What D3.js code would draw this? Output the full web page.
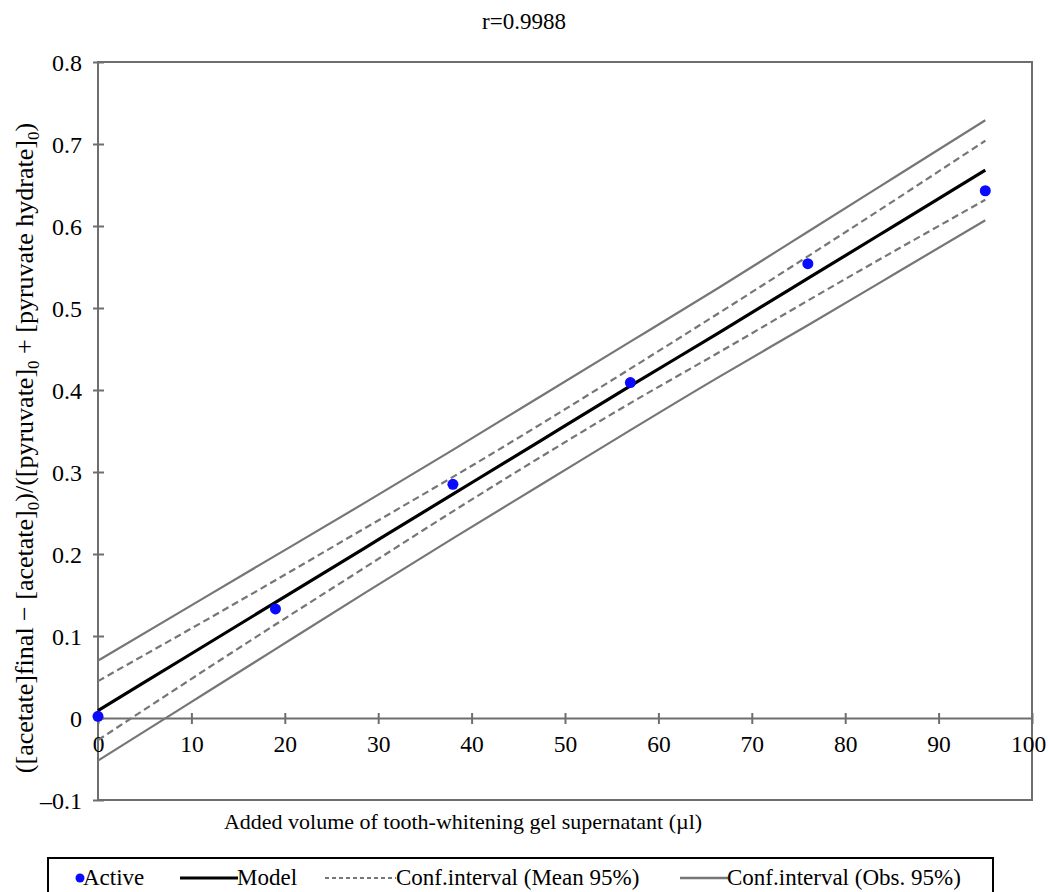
<!DOCTYPE html>
<html>
<head>
<meta charset="utf-8">
<script src="https://cdn.jsdelivr.net/npm/d3@7"></script>
<style>
  html, body { margin: 0; padding: 0; background: #fff; }
  svg { display: block; font-family: "Liberation Serif", "DejaVu Serif", serif; }
</style>
</head>
<body>
<svg id="chart" width="1048" height="892"></svg>
<script>
// ---- data ----
const xPoints = [0, 19, 38, 57, 76, 95];
const yPoints = [0.002, 0.133, 0.285, 0.409, 0.554, 0.643];

const curveX    = [0, 9.5, 19, 28.5, 38, 47.5, 57, 66.5, 76, 85.5, 95];
const modelY    = [0.009, 0.075, 0.141, 0.207, 0.273, 0.339, 0.405, 0.470, 0.536, 0.602, 0.668];
const meanUpper = [0.045, 0.106, 0.168, 0.231, 0.294, 0.359, 0.426, 0.494, 0.563, 0.633, 0.704];
const meanLower = [-0.027, 0.044, 0.114, 0.183, 0.252, 0.319, 0.384, 0.446, 0.509, 0.571, 0.632];
const obsUpper  = [0.070, 0.134, 0.198, 0.262, 0.327, 0.393, 0.459, 0.525, 0.593, 0.661, 0.729];
const obsLower  = [-0.052, 0.016, 0.084, 0.152, 0.219, 0.285, 0.351, 0.416, 0.479, 0.543, 0.607];

const xTicks = [0, 10, 20, 30, 40, 50, 60, 70, 80, 90, 100];
const yTicks = [-0.1, 0, 0.1, 0.2, 0.3, 0.4, 0.5, 0.6, 0.7, 0.8];
const yTickLabels = ["\u20130.1", "0", "0.1", "0.2", "0.3", "0.4", "0.5", "0.6", "0.7", "0.8"];

const titleText = "r=0.9988";
const xLabelText = "Added volume of tooth-whitening gel supernatant (\u00b5l)";
const legendLabels = ["Active", "Model", "Conf.interval (Mean 95%)", "Conf.interval (Obs. 95%)"];

// ---- layout ----
const svg = d3.select("#chart");
const L = 98, R = 1032, T = 62, B = 800;
const x = d3.scaleLinear().domain([0, 100]).range([L, R]);
const y = d3.scaleLinear().domain([-0.1, 0.8]).range([B, T]);
const frameColor = "#6e6e6e";
const ciColor = "#767676";

// title
svg.append("text").attr("x", 524).attr("y", 29).attr("text-anchor", "middle")
  .attr("font-size", 23).text(titleText);

// frame
svg.append("rect").attr("x", L).attr("y", T).attr("width", R - L).attr("height", B - T)
  .attr("fill", "none").attr("stroke", frameColor).attr("stroke-width", 2);

// y axis ticks
const yAxis = d3.axisLeft(y).tickValues(yTicks).tickSize(0).tickFormat("");
const gy = svg.append("g").attr("transform", `translate(${L},0)`).call(yAxis);
gy.select(".domain").remove();
gy.selectAll(".tick line").attr("x1", -5).attr("x2", 6).attr("stroke", frameColor).attr("stroke-width", 2);
gy.selectAll(".tick").append("text")
  .attr("x", -16).attr("dy", "0.35em").attr("text-anchor", "end")
  .attr("fill", "#000").attr("font-size", 24)
  .attr("font-family", "Liberation Serif, serif")
  .text((d, i) => yTickLabels[i]);

// x axis at y = 0
const xAxis = d3.axisBottom(x).tickValues(xTicks).tickSize(0).tickFormat("");
const gx = svg.append("g").attr("transform", `translate(0,${y(0)})`).call(xAxis);
gx.select(".domain").attr("stroke", frameColor).attr("stroke-width", 2);
gx.selectAll(".tick line").attr("y1", -5).attr("y2", 6).attr("stroke", frameColor).attr("stroke-width", 2);
gx.selectAll(".tick").append("text")
  .attr("y", 34).attr("text-anchor", "middle")
  .attr("dx", d => d === 100 ? -4 : 0)
  .attr("fill", "#000").attr("font-size", 23.5)
  .attr("font-family", "Liberation Serif, serif")
  .text(d => d3.format("d")(d));

// lines
const line = d3.line().x(d => x(d[0])).y(d => y(d[1])).curve(d3.curveNatural);
const zipXY = arr => curveX.map((v, i) => [v, arr[i]]);

[obsUpper, obsLower].forEach(arr => {
  svg.append("path").datum(zipXY(arr)).attr("d", line)
    .attr("fill", "none").attr("stroke", ciColor).attr("stroke-width", 2.2);
});
[meanUpper, meanLower].forEach(arr => {
  svg.append("path").datum(zipXY(arr)).attr("d", line)
    .attr("fill", "none").attr("stroke", ciColor).attr("stroke-width", 2.2)
    .attr("stroke-dasharray", "7,4");
});
svg.append("path").datum(zipXY(modelY)).attr("d", line)
  .attr("fill", "none").attr("stroke", "#000").attr("stroke-width", 3.2);

// points
svg.selectAll("circle.pt").data(xPoints.map((v, i) => [v, yPoints[i]])).enter()
  .append("circle").attr("class", "pt")
  .attr("cx", d => x(d[0])).attr("cy", d => y(d[1])).attr("r", 5.5)
  .attr("fill", "#0a0aff");

// y label
const yl = svg.append("text")
  .attr("transform", "translate(33,448) rotate(-90)")
  .attr("text-anchor", "middle").attr("font-size", 26);
const parts = [
  ["([acetate]final \u2212 [acetate]", false], ["0", true],
  [")/([pyruvate]", false], ["0", true],
  [" + [pyruvate hydrate]", false], ["0", true], [")", false]
];
parts.forEach(([t, sub], i) => {
  const prevSub = i > 0 && parts[i - 1][1];
  const ts = yl.append("tspan").text(t).attr("dy", sub ? 6 : (prevSub ? -6 : 0));
  if (sub) ts.attr("font-size", 17);
});

// x label
svg.append("text").attr("x", 463).attr("y", 829).attr("text-anchor", "middle")
  .attr("font-size", 22).text(xLabelText);

// legend
svg.append("rect").attr("x", 48).attr("y", 858).attr("width", 945).attr("height", 50)
  .attr("fill", "none").attr("stroke", "#000").attr("stroke-width", 2);
const ly = 885;
svg.append("circle").attr("cx", 80).attr("cy", ly - 7).attr("r", 4.5).attr("fill", "#0a0aff");
svg.append("text").attr("x", 83).attr("y", ly).attr("font-size", 23).text(legendLabels[0]);
svg.append("line").attr("x1", 180).attr("x2", 238).attr("y1", ly - 7).attr("y2", ly - 7)
  .attr("stroke", "#000").attr("stroke-width", 3);
svg.append("text").attr("x", 237).attr("y", ly).attr("font-size", 23).text(legendLabels[1]);
svg.append("line").attr("x1", 325).attr("x2", 396).attr("y1", ly - 7).attr("y2", ly - 7)
  .attr("stroke", ciColor).attr("stroke-width", 2).attr("stroke-dasharray", "4,3");
svg.append("text").attr("x", 396).attr("y", ly).attr("font-size", 23).text(legendLabels[2]);
svg.append("line").attr("x1", 680).attr("x2", 728).attr("y1", ly - 7).attr("y2", ly - 7)
  .attr("stroke", ciColor).attr("stroke-width", 2.5);
svg.append("text").attr("x", 727).attr("y", ly).attr("font-size", 23).text(legendLabels[3]);
</script>
</body>
</html>
